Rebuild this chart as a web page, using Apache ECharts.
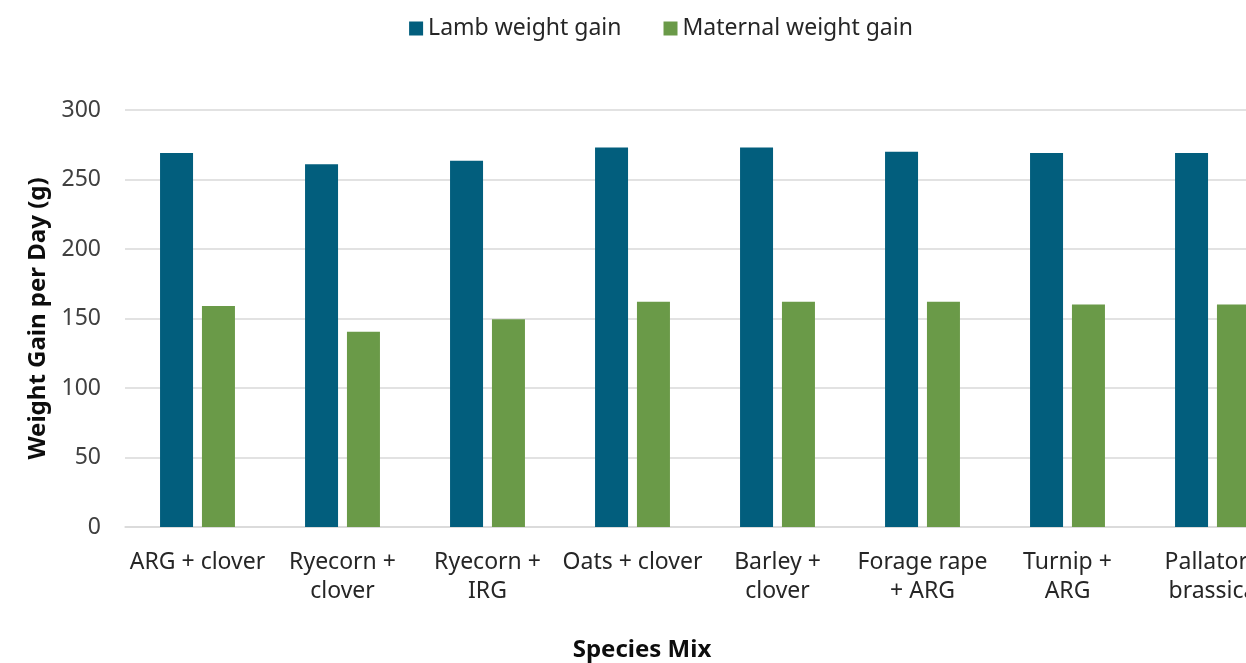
<!DOCTYPE html>
<html>
<head>
<meta charset="utf-8">
<script src="https://cdn.jsdelivr.net/npm/echarts@6/dist/echarts.min.js"></script>
<style>
  html, body { margin: 0; padding: 0; overflow: hidden; background: #fff; }
  #chart { width: 1322px; height: 663px; }
</style>
</head>
<body>
<div id="chart"></div>
<script>
// Daily weight gain by forage species mix
const categories = [
  'ARG + clover',
  'Ryecorn +\nclover',
  'Ryecorn +\nIRG',
  'Oats + clover',
  'Barley +\nclover',
  'Forage rape\n+ ARG',
  'Turnip +\nARG',
  'Pallatore\nbrassica'
];
const lambGain = [269, 261, 263.5, 273, 273, 270, 269, 269];
const maternalGain = [159, 140.5, 149.5, 162, 162, 162, 160, 160];
const yTicks = { min: 0, max: 300, interval: 50 };

const FONT = '"Noto Sans", "Open Sans", sans-serif';
const chart = echarts.init(document.getElementById('chart'));

chart.setOption({
  animation: false,
  textStyle: { fontFamily: FONT },
  legend: {
    top: 12,
    left: 'center',
    itemWidth: 14,
    itemHeight: 14,
    itemGap: 42,
    icon: 'rect',
    textStyle: { fontSize: 23, color: '#262626', fontFamily: FONT },
    data: ['Lamb weight gain', 'Maternal weight gain']
  },
  grid: { left: 125, right: 37, top: 110, bottom: 136, containLabel: false },
  xAxis: {
    type: 'category',
    data: categories,
    axisLine: { show: true, lineStyle: { color: '#d9d9d9', width: 1.5 } },
    axisTick: { show: false },
    axisLabel: {
      interval: 0,
      margin: 21,
      fontSize: 23,
      lineHeight: 29,
      color: '#262626',
      fontFamily: FONT
    }
  },
  yAxis: {
    type: 'value',
    min: yTicks.min,
    max: yTicks.max,
    interval: yTicks.interval,
    name: 'Weight Gain per Day (g)',
    nameLocation: 'middle',
    nameGap: 75,
    nameTextStyle: { fontSize: 24, fontWeight: 'bold', color: '#0d0d0d', fontFamily: FONT },
    axisLine: { show: false },
    axisTick: { show: false },
    splitLine: { lineStyle: { color: '#d9d9d9', width: 1.5 } },
    axisLabel: { fontSize: 23, color: '#404040', margin: 24, fontFamily: FONT }
  },
  graphic: [{
    type: 'text',
    x: 642,
    y: 650,
    style: {
      text: 'Species Mix',
      fontSize: 24,
      fontWeight: 'bold',
      fill: '#0d0d0d',
      fontFamily: FONT,
      textAlign: 'center',
      textVerticalAlign: 'middle'
    }
  }],
  series: [
    {
      name: 'Lamb weight gain',
      type: 'bar',
      data: lambGain,
      barWidth: 33,
      barGap: '27%',
      itemStyle: { color: '#025e7d' }
    },
    {
      name: 'Maternal weight gain',
      type: 'bar',
      data: maternalGain,
      barWidth: 33,
      itemStyle: { color: '#6a9a48' }
    }
  ]
});
</script>
</body>
</html>
